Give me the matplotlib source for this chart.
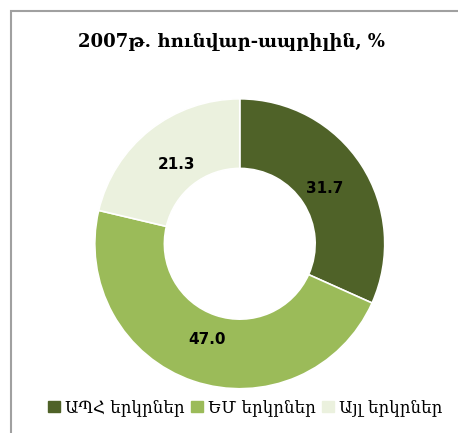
import numpy as np
import matplotlib
matplotlib.use("Agg")
import matplotlib.pyplot as plt
from matplotlib.patches import Rectangle

# data
labels = ["ԱՊՀ երկրներ", "ԵՄ երկրներ", "Այլ երկրներ"]
values = [31.7, 47.0, 21.3]
colors = ["#4F6228", "#9BBB59", "#EBF1DE"]
title = "2007թ. հունվար-ապրիլին, %"

plt.rcParams['font.family'] = ['DejaVu Sans']

fig = plt.figure(figsize=(4.58, 4.33), dpi=100)
fig.patches.append(Rectangle((11/458, -0.05), 1.2, 1 - 11/433 + 0.05,
                             transform=fig.transFigure, fill=False,
                             edgecolor='#A0A0A0', linewidth=1.5))

ax = fig.add_axes([0.207, 0.102, 0.633, 0.670])
wedges, _ = ax.pie(values, colors=colors, startangle=90, counterclock=False,
                   radius=1.0, wedgeprops=dict(width=0.48, edgecolor='white', linewidth=1.2))
# value labels at mid ring
for w, v in zip(wedges, values):
    ang = np.deg2rad((w.theta1 + w.theta2) / 2)
    r = 0.70
    ax.text(r * np.cos(ang), r * np.sin(ang), f"{v:.1f}", ha='center', va='center',
            fontsize=11, fontweight='bold', color='black')
ax.set_xlim(-1, 1); ax.set_ylim(-1, 1)
ax.set_aspect('equal')
ax.axis('off')

fig.text(0.505, 0.903, title, ha='center', va='center', fontsize=13, fontweight='bold',
         family=['DejaVu Serif', 'DejaVu Sans'])

handles = [Rectangle((0, 0), 1, 1, color=c) for c in colors]
fig.legend(handles, labels, loc='center', bbox_to_anchor=(0.535, 0.058), ncol=3,
           frameon=False, prop=dict(family=['DejaVu Serif', 'DejaVu Sans'], size=12),
           handlelength=0.7, handleheight=0.7, handletextpad=0.3, columnspacing=0.4)

fig.savefig("out.png", dpi=100)
